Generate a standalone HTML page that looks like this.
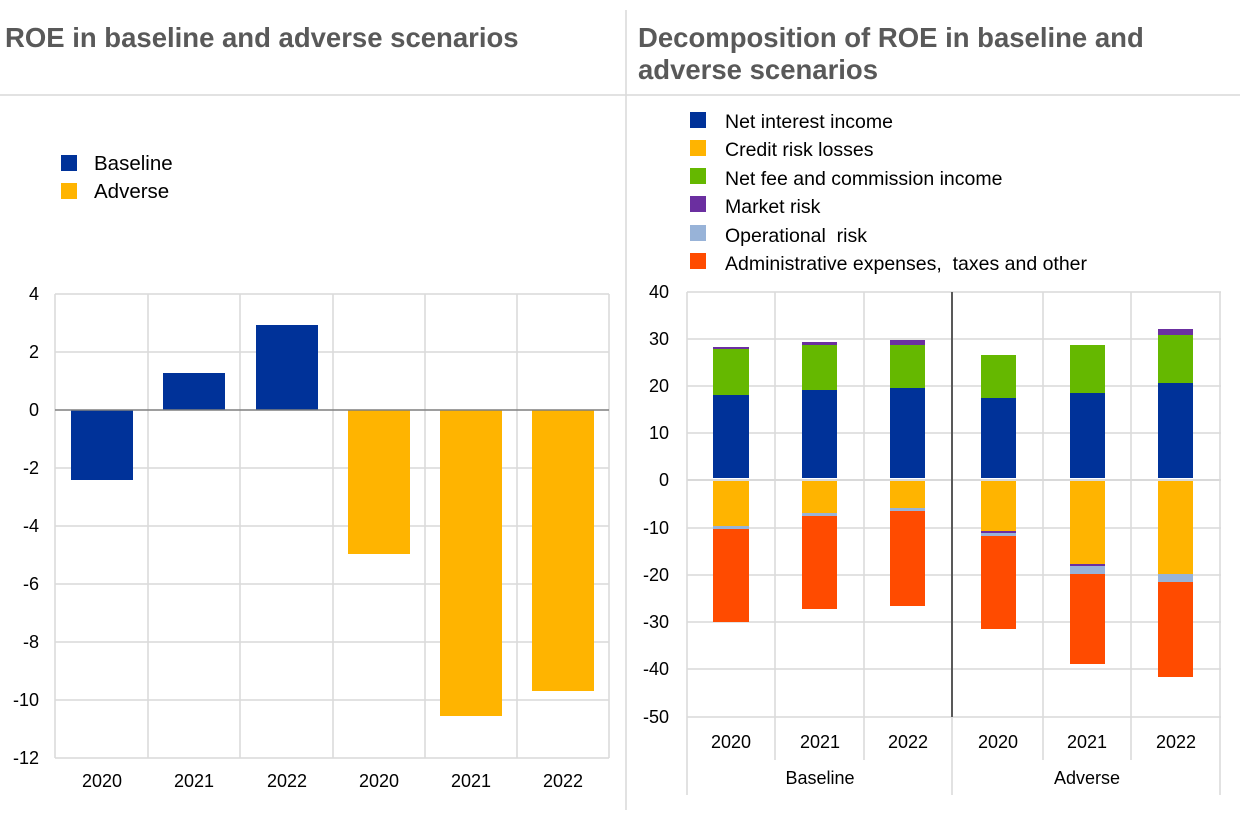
<!DOCTYPE html>
<html><head><meta charset="utf-8"><style>
body{margin:0;background:#fff;}
svg{display:block;font-family:"Liberation Sans",Arial,sans-serif;}
</style></head><body>
<svg width="1240" height="815" viewBox="0 0 1240 815" xmlns="http://www.w3.org/2000/svg">
<rect width="1240" height="815" fill="#fff"/>
<line x1="626" y1="10" x2="626" y2="810" stroke="#d9d9d9" stroke-width="1.5"/>
<line x1="0" y1="95" x2="1240" y2="95" stroke="#d9d9d9" stroke-width="1.5"/>
<text x="5" y="47" font-size="27.5" font-weight="bold" fill="#595959">ROE in baseline and adverse scenarios</text>
<text x="638" y="47" font-size="27.5" font-weight="bold" fill="#595959">Decomposition of ROE in baseline and</text>
<text x="638" y="79" font-size="27.5" font-weight="bold" fill="#595959">adverse scenarios</text>

<rect x="61" y="155" width="16" height="16" fill="#003299"/>
<text x="94" y="170" font-size="20.5" fill="#000">Baseline</text>
<rect x="61" y="183" width="16" height="16" fill="#ffb400"/>
<text x="94" y="198" font-size="20.5" fill="#000">Adverse</text>

<g stroke="#d9d9d9" stroke-width="1.5">
<line x1="55" y1="294" x2="609" y2="294"/><line x1="55" y1="352" x2="609" y2="352"/>
<line x1="55" y1="468" x2="609" y2="468"/><line x1="55" y1="526" x2="609" y2="526"/>
<line x1="55" y1="584" x2="609" y2="584"/><line x1="55" y1="642" x2="609" y2="642"/>
<line x1="55" y1="700" x2="609" y2="700"/><line x1="55" y1="758" x2="609" y2="758"/>
<line x1="55" y1="294" x2="55" y2="758"/><line x1="148" y1="294" x2="148" y2="758"/>
<line x1="240" y1="294" x2="240" y2="758"/><line x1="333" y1="294" x2="333" y2="758"/>
<line x1="425" y1="294" x2="425" y2="758"/><line x1="517" y1="294" x2="517" y2="758"/>
<line x1="609" y1="294" x2="609" y2="758"/>
</g>
<rect x="71" y="410" width="62" height="70" fill="#003299"/>
<rect x="163" y="373" width="62" height="37" fill="#003299"/>
<rect x="256" y="325" width="62" height="85" fill="#003299"/>
<rect x="348" y="410" width="62" height="144" fill="#ffb400"/>
<rect x="440" y="410" width="62" height="306" fill="#ffb400"/>
<rect x="532" y="410" width="62" height="281" fill="#ffb400"/>
<line x1="55" y1="410" x2="609" y2="410" stroke="#7f7f7f" stroke-width="1.5"/>
<g font-size="18" fill="#000" text-anchor="end">
<text x="39" y="300">4</text><text x="39" y="358">2</text><text x="39" y="416">0</text>
<text x="39" y="474">-2</text><text x="39" y="532">-4</text><text x="39" y="590">-6</text>
<text x="39" y="648">-8</text><text x="39" y="706">-10</text><text x="39" y="764">-12</text>
</g>
<g font-size="18" fill="#000" text-anchor="middle">
<text x="102" y="787">2020</text><text x="194" y="787">2021</text><text x="287" y="787">2022</text>
<text x="379" y="787">2020</text><text x="471" y="787">2021</text><text x="563" y="787">2022</text>
</g>

<g font-size="19.5" fill="#000">
<rect x="690" y="112" width="16" height="16" fill="#003299"/><text x="725" y="128">Net interest income</text>
<rect x="690" y="140" width="16" height="16" fill="#ffb400"/><text x="725" y="156">Credit risk losses</text>
<rect x="690" y="168" width="16" height="16" fill="#65b800"/><text x="725" y="185">Net fee and commission income</text>
<rect x="690" y="196" width="16" height="16" fill="#6b2fa0"/><text x="725" y="213">Market risk</text>
<rect x="690" y="225" width="16" height="16" fill="#98b3d8"/><text x="725" y="242" xml:space="preserve">Operational  risk</text>
<rect x="690" y="253" width="16" height="16" fill="#ff4b00"/><text x="725" y="270" xml:space="preserve">Administrative expenses,  taxes and other</text>
</g>
<g stroke="#d9d9d9" stroke-width="1.5">
<line x1="687" y1="292" x2="1221" y2="292"/><line x1="687" y1="339" x2="1221" y2="339"/>
<line x1="687" y1="386" x2="1221" y2="386"/><line x1="687" y1="433" x2="1221" y2="433"/>
<line x1="687" y1="528" x2="1221" y2="528"/><line x1="687" y1="575" x2="1221" y2="575"/>
<line x1="687" y1="622" x2="1221" y2="622"/><line x1="687" y1="669" x2="1221" y2="669"/>
<line x1="687" y1="717" x2="1221" y2="717"/>
<line x1="687" y1="292" x2="687" y2="795"/><line x1="775" y1="292" x2="775" y2="760"/>
<line x1="864" y1="292" x2="864" y2="760"/><line x1="1043" y1="292" x2="1043" y2="760"/>
<line x1="1131" y1="292" x2="1131" y2="760"/><line x1="1220" y1="292" x2="1220" y2="795"/>
<line x1="952" y1="717" x2="952" y2="795"/>
</g>
<line x1="687" y1="480" x2="1221" y2="480" stroke="#d9d9d9" stroke-width="2"/>
<line x1="952" y1="292" x2="952" y2="717" stroke="#595959" stroke-width="2"/>
<g>
<rect x="713" y="347" width="36" height="2" fill="#6b2fa0"/><rect x="713" y="349" width="36" height="46" fill="#65b800"/><rect x="713" y="395" width="36" height="83" fill="#003299"/>
<rect x="713" y="481" width="36" height="45" fill="#ffb400"/><rect x="713" y="526" width="36" height="3" fill="#98b3d8"/><rect x="713" y="529" width="36" height="93" fill="#ff4b00"/>
<rect x="802" y="342" width="35" height="3" fill="#6b2fa0"/><rect x="802" y="345" width="35" height="45" fill="#65b800"/><rect x="802" y="390" width="35" height="88" fill="#003299"/>
<rect x="802" y="481" width="35" height="32" fill="#ffb400"/><rect x="802" y="513" width="35" height="3" fill="#98b3d8"/><rect x="802" y="516" width="35" height="93" fill="#ff4b00"/>
<rect x="890" y="340" width="35" height="5" fill="#6b2fa0"/><rect x="890" y="345" width="35" height="43" fill="#65b800"/><rect x="890" y="388" width="35" height="90" fill="#003299"/>
<rect x="890" y="481" width="35" height="27" fill="#ffb400"/><rect x="890" y="508" width="35" height="3" fill="#98b3d8"/><rect x="890" y="511" width="35" height="95" fill="#ff4b00"/>
<rect x="981" y="355" width="35" height="43" fill="#65b800"/><rect x="981" y="398" width="35" height="80" fill="#003299"/>
<rect x="981" y="481" width="35" height="50" fill="#ffb400"/><rect x="981" y="531" width="35" height="2" fill="#6b2fa0"/><rect x="981" y="533" width="35" height="3" fill="#98b3d8"/><rect x="981" y="536" width="35" height="93" fill="#ff4b00"/>
<rect x="1070" y="345" width="35" height="48" fill="#65b800"/><rect x="1070" y="393" width="35" height="85" fill="#003299"/>
<rect x="1070" y="481" width="35" height="83" fill="#ffb400"/><rect x="1070" y="564" width="35" height="2" fill="#6b2fa0"/><rect x="1070" y="566" width="35" height="8" fill="#98b3d8"/><rect x="1070" y="574" width="35" height="90" fill="#ff4b00"/>
<rect x="1158" y="329" width="35" height="6" fill="#6b2fa0"/><rect x="1158" y="335" width="35" height="48" fill="#65b800"/><rect x="1158" y="383" width="35" height="95" fill="#003299"/>
<rect x="1158" y="481" width="35" height="93" fill="#ffb400"/><rect x="1158" y="574" width="35" height="8" fill="#98b3d8"/><rect x="1158" y="582" width="35" height="95" fill="#ff4b00"/>
</g>
<g font-size="18" fill="#000" text-anchor="end">
<text x="669" y="298">40</text><text x="669" y="345">30</text><text x="669" y="392">20</text>
<text x="669" y="439">10</text><text x="669" y="486">0</text><text x="669" y="534">-10</text>
<text x="669" y="581">-20</text><text x="669" y="628">-30</text><text x="669" y="675">-40</text>
<text x="669" y="723">-50</text>
</g>
<g font-size="18" fill="#000" text-anchor="middle">
<text x="731" y="748">2020</text><text x="820" y="748">2021</text><text x="908" y="748">2022</text>
<text x="998" y="748">2020</text><text x="1087" y="748">2021</text><text x="1176" y="748">2022</text>
<text x="820" y="784">Baseline</text><text x="1087" y="784">Adverse</text>
</g>
</svg>
</body></html>
